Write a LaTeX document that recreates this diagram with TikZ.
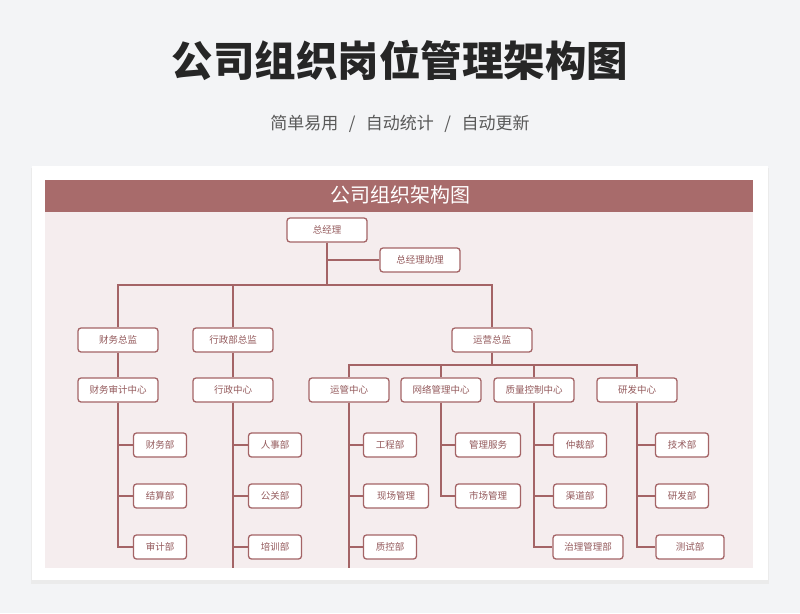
\documentclass[tikz,border=0pt]{standalone}
\usepackage{fontspec}
\setmainfont{Noto Sans CJK SC}
\usetikzlibrary{positioning}
\definecolor{rosebar}{HTML}{A86B6B}
\definecolor{roseline}{HTML}{A46466}
\definecolor{rosebg}{HTML}{F5EDEE}
\definecolor{pagebg}{HTML}{F3F4F6}
\tikzset{%
  box/.style = {rectangle,draw=roseline,fill=white,line width=1.3pt,
        rounded corners=3pt,minimum width=80pt,minimum height=24pt,
        font=\fontsize{9.5}{9.5}\selectfont,text=roseline!90!black},
  leaf/.style = {box,minimum width=53pt},
  wideleaf/.style = {box,minimum width=65pt},
  link/.style = {draw=roseline,line width=1.3pt}
}
\begin{document}
\begin{tikzpicture}[x=1pt,y=-1pt]
        % page and card
        \fill[pagebg] (0,0) rectangle (800,613);
        \useasboundingbox (0,0) rectangle (800,613);
        \fill[black!8] (31,168) rectangle (769,584);
        \fill[white] (32,166) rectangle (768,580);
        \fill[rosebg] (45,212) rectangle (753,568);
        \fill[rosebar] (45,180) rectangle (753,212);
        \node[font=\fontsize{41.5}{41.5}\selectfont\bfseries,text=black!85] (title) at (400,60) {公司组织岗位管理架构图};
        \node[font=\fontsize{17}{17}\selectfont,text=black!65] (sub) at (400,124) {简单易用 \,~/~\, 自动统计 \,~/~\, 自动更新};
        \node[font=\fontsize{20}{20}\selectfont,text=white] (head) at (400,195) {公司组织架构图};
        % top levels
        \node[box] (gm) at (327,230) {总经理};
        \node[box] (asst) at (420,260) {总经理助理};
        \node[box] (fin) at (118,340) {财务总监};
        \node[box] (adm) at (233,340) {行政部总监};
        \node[box] (ops) at (492,340) {运营总监};
        % centres
        \node[box] (finc) at (118,390) {财务审计中心};
        \node[box] (admc) at (233,390) {行政中心};
        \node[box] (opsc) at (349,390) {运管中心};
        \node[box] (netc) at (441,390) {网络管理中心};
        \node[box] (qcc) at (534,390) {质量控制中心};
        \node[box] (rdc) at (637,390) {研发中心};
        % departments
        \node[leaf] (fin1) at (160,445) {财务部};
        \node[leaf] (fin2) at (160,496) {结算部};
        \node[leaf] (fin3) at (160,547) {审计部};
        \node[leaf] (adm1) at (275,445) {人事部};
        \node[leaf] (adm2) at (275,496) {公关部};
        \node[leaf] (adm3) at (275,547) {培训部};
        \node[leaf] (ops1) at (390,445) {工程部};
        \node[wideleaf] (ops2) at (396,496) {现场管理};
        \node[leaf] (ops3) at (390,547) {质控部};
        \node[wideleaf] (net1) at (488,445) {管理服务};
        \node[wideleaf] (net2) at (488,496) {市场管理};
        \node[leaf] (qc1) at (580,445) {仲裁部};
        \node[leaf] (qc2) at (580,496) {渠道部};
        \node[wideleaf,minimum width=70pt] (qc3) at (588,547) {治理管理部};
        \node[leaf] (rd1) at (682,445) {技术部};
        \node[leaf] (rd2) at (682,496) {研发部};
        \node[wideleaf,minimum width=68pt] (rd3) at (690,547) {测试部};
        % bus points
        \coordinate (bus1) at (327,285);
        \coordinate (bus2) at (492,365);
        \coordinate (admend) at (233,568);
        \coordinate (opsend) at (349,568);
        % top links
        \draw[link] (gm) |- (asst);
        \draw[link] (gm) -- (bus1) -| (fin);
        \draw[link] (bus1) -| (adm);
        \draw[link] (bus1) -| (ops);
        \draw[link] (fin) -- (finc);
        \draw[link] (adm) -- (admc);
        \draw[link] (ops) -- (bus2) -| (opsc);
        \draw[link] (bus2) -| (netc);
        \draw[link] (bus2) -| (qcc);
        \draw[link] (bus2) -| (rdc);
        % department links
        \draw[link] (finc) |- (fin1);
        \draw[link] (finc) |- (fin2);
        \draw[link] (finc) |- (fin3);
        \draw[link] (admc) |- (adm1);
        \draw[link] (admc) |- (adm2);
        \draw[link] (admc) |- (adm3);
        \draw[link] (admc) -- (admend);
        \draw[link] (opsc) |- (ops1);
        \draw[link] (opsc) |- (ops2);
        \draw[link] (opsc) |- (ops3);
        \draw[link] (opsc) -- (opsend);
        \draw[link] (netc) |- (net1);
        \draw[link] (netc) |- (net2);
        \draw[link] (qcc) |- (qc1);
        \draw[link] (qcc) |- (qc2);
        \draw[link] (qcc) |- (qc3);
        \draw[link] (rdc) |- (rd1);
        \draw[link] (rdc) |- (rd2);
        \draw[link] (rdc) |- (rd3);
    \end{tikzpicture}
\end{document}
